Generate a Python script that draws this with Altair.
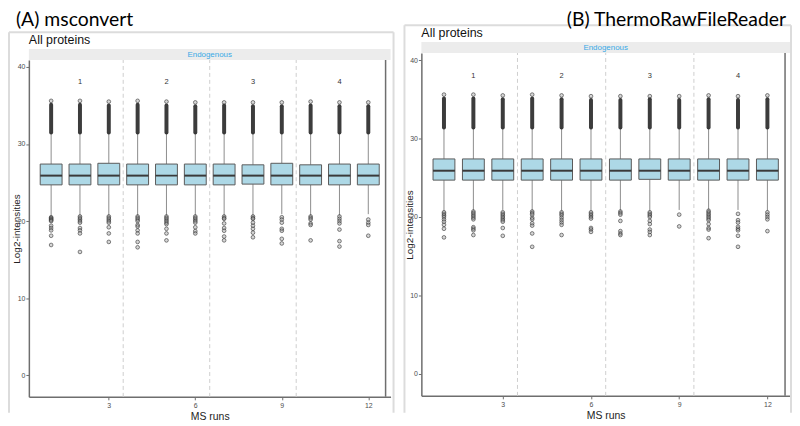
import altair as alt
import pandas as pd

RUNS = list(range(1, 13))
X_DOMAIN = [0.4, 12.6]
Y_DOMAIN = [-2.8, 40.9]
X_TICKS = [3, 6, 9, 12]
Y_TICKS = [0, 10, 20, 30, 40]
SEPARATORS = [3.5, 6.5, 9.5]
GROUP_LABELS = ["1", "2", "3", "4"]
GROUP_X = [2, 5, 8, 11]
GROUP_Y = [38, 38, 38, 38]

# (A) msconvert
A_Q1 = [24.7, 24.7, 24.7, 24.7, 24.7, 24.7, 24.7, 24.8, 24.7, 24.7, 24.7, 24.7]
A_MED = [25.9, 25.9, 25.9, 25.9, 25.9, 25.9, 25.9, 25.9, 25.9, 25.9, 25.9, 25.9]
A_Q3 = [27.4, 27.4, 27.5, 27.4, 27.4, 27.4, 27.4, 27.3, 27.5, 27.3, 27.4, 27.4]
A_WLO = [20.7, 20.7, 20.7, 20.7, 20.7, 20.7, 20.7, 20.7, 20.9, 20.7, 20.7, 20.9]
A_WHI = [31.5, 31.5, 31.5, 31.5, 31.5, 31.5, 31.5, 31.5, 31.5, 31.5, 31.5, 31.5]
A_DENSE_HI = [35.1, 35.1, 35.0, 35.1, 35.0, 34.9, 35.0, 34.9, 34.9, 35.0, 34.9, 34.9]
A_MAX = [35.6, 35.6, 35.5, 35.6, 35.5, 35.4, 35.4, 35.4, 35.4, 35.5, 35.4, 35.4]
A_LOW = [
    [20.5, 20.4, 20.3, 20.2, 20.1, 20.0, 19.4, 19.1, 18.8, 18.1, 16.9],
    [20.6, 20.4, 20.2, 20.0, 19.8, 19.1, 18.8, 18.4, 16.0],
    [20.6, 20.4, 20.2, 20.0, 19.8, 19.2, 18.4, 17.3],
    [20.6, 20.4, 20.2, 20.0, 19.5, 19.3, 18.8, 18.4, 17.3, 16.6],
    [20.6, 20.4, 20.2, 20.0, 19.8, 19.6, 19.0, 18.4, 17.5],
    [20.6, 20.4, 20.2, 20.0, 19.8, 19.2, 18.7, 18.4],
    [20.6, 20.4, 20.3, 19.7, 19.1, 18.75, 18.0, 17.5],
    [20.6, 20.4, 20.3, 19.8, 19.4, 19.0, 18.5, 17.9],
    [20.5, 20.2, 19.8, 19.0, 18.75, 17.7, 17.1],
    [20.6, 20.4, 20.2, 19.7, 19.5, 17.5],
    [20.6, 20.3, 20.0, 19.7, 18.9, 17.4, 16.7],
    [20.2, 19.8, 19.5, 18.1],
]

# (B) ThermoRawFileReader
B_Q1 = [24.7, 24.7, 24.7, 24.7, 24.7, 24.7, 24.7, 24.8, 24.7, 24.7, 24.7, 24.7]
B_MED = [25.9, 25.9, 25.9, 25.9, 25.9, 25.9, 25.9, 25.9, 25.9, 25.9, 25.9, 25.9]
B_Q3 = [27.4, 27.4, 27.4, 27.4, 27.4, 27.4, 27.4, 27.4, 27.4, 27.4, 27.4, 27.4]
B_WLO = [20.8, 20.8, 20.9, 20.8, 20.8, 20.8, 20.8, 20.8, 20.9, 20.9, 20.9, 20.8]
B_WHI = [31.4, 31.4, 31.4, 31.4, 31.4, 31.4, 31.4, 31.4, 31.4, 31.4, 31.4, 31.4]
B_DENSE_HI = [35.1, 35.1, 35.0, 35.1, 35.0, 34.9, 34.9, 35.0, 34.9, 35.0, 34.9, 35.0]
B_MAX = [35.6, 35.6, 35.5, 35.6, 35.5, 35.4, 35.4, 35.4, 35.4, 35.5, 35.4, 35.5]
B_LOW = [
    [20.6, 20.4, 20.2, 20.0, 19.7, 19.4, 19.0, 18.5, 17.4],
    [20.7, 20.5, 20.3, 20.1, 19.9, 19.7, 18.7, 18.5, 18.3, 17.7],
    [20.6, 20.4, 20.2, 20.0, 19.8, 19.6, 19.4, 18.6, 17.6],
    [20.7, 20.5, 20.3, 19.9, 19.7, 19.2, 18.9, 17.9, 16.2],
    [20.6, 20.4, 20.2, 19.9, 19.6, 19.3, 19.0, 17.7],
    [20.6, 20.4, 20.2, 20.0, 19.8, 18.6, 18.4, 18.1],
    [20.7, 20.5, 20.3, 19.5, 18.2, 17.9, 17.7],
    [20.6, 20.4, 20.2, 20.0, 19.5, 19.1, 18.4, 18.1, 17.7],
    [20.3, 18.8],
    [20.8, 20.6, 20.4, 20.2, 20.0, 19.8, 19.6, 19.1, 18.6, 18.4, 17.3],
    [20.4, 19.6, 19.3, 18.75, 18.5, 18.3, 17.6, 16.2],
    [20.6, 20.3, 20.0, 19.7, 18.2],
]

PANEL_TITLE = "All proteins"
STRIP_LABEL = "Endogenous"

AXIS_COL = "#6e6e6e"
LABEL_COL = "#4d4d4d"


def one():
    return pd.DataFrame({"k": [0]})


def panel(big_title, title_align, title_x, Q1, MED, Q3, WLO, WHI, DHI, MX, LOW,
          W, H, top, frame):
    box = pd.DataFrame(dict(run=RUNS, q1=Q1, med=MED, q3=Q3, wlo=WLO, whi=WHI,
                            dhi=DHI, mx=MX))
    low = pd.DataFrame([(r, v) for r, vals in zip(RUNS, LOW) for v in vals],
                       columns=["run", "v"])
    seps = pd.DataFrame({"x": SEPARATORS, "lo": [Y_DOMAIN[0]] * 3, "hi": [Y_DOMAIN[1]] * 3})
    groups = pd.DataFrame({"g": GROUP_LABELS, "x": GROUP_X, "y": GROUP_Y})
    border = pd.DataFrame({"x": [X_DOMAIN[1]], "lo": [Y_DOMAIN[0]], "hi": [Y_DOMAIN[1]]})

    xs = alt.Scale(domain=X_DOMAIN, nice=False, zero=False)
    ys = alt.Scale(domain=Y_DOMAIN, nice=False, zero=False, range=[H, top])
    xax = alt.Axis(values=X_TICKS, title="MS runs", grid=False, labelFontSize=7,
                   titleFontSize=10.5, titleFontWeight="normal", tickSize=3,
                   labelPadding=2, titlePadding=3, domainColor=AXIS_COL,
                   domainWidth=1.5, tickColor=AXIS_COL, labelColor=LABEL_COL,
                   titleColor="#222", labelFont="Liberation Sans",
                   titleFont="Liberation Sans")
    yax = alt.Axis(values=Y_TICKS, title="Log2-intensities", grid=False,
                   labelFontSize=7, titleFontSize=10, titleFontWeight="normal",
                   tickSize=3, labelPadding=1, titleX=-7, titleY=(H + top) / 2,
                   titleAngle=270, titleAlign="center", titleBaseline="bottom",
                   domainColor=AXIS_COL, domainWidth=1.5, tickColor=AXIS_COL,
                   labelColor=LABEL_COL, titleColor="#222",
                   labelFont="Liberation Sans", titleFont="Liberation Sans")

    def X(f):
        return alt.X(f, scale=xs, axis=xax, title="MS runs")

    def Y(f):
        return alt.Y(f, scale=ys, axis=yax, title="Log2-intensities")

    fl, ft, fr = frame
    layers = []
    # main axes-defining layer first: whiskers
    layers.append(alt.Chart(box).mark_rule(color="#8c8c8c", strokeWidth=1).encode(
        x=X("run:Q"), y=Y("wlo:Q"), y2="q1:Q"))
    layers.append(alt.Chart(box).mark_rule(color="#8c8c8c", strokeWidth=1).encode(
        x=X("run:Q"), y=Y("q3:Q"), y2="whi:Q"))
    # outer light frame
    layers.append(alt.Chart(one()).mark_rule(color="#dcdcdc", strokeWidth=2).encode(
        x=alt.value(fl), y=alt.value(ft), y2=alt.value(362)))
    layers.append(alt.Chart(one()).mark_rule(color="#dcdcdc", strokeWidth=2).encode(
        x=alt.value(fl), x2=alt.value(fr), y=alt.value(ft)))
    if fr < W + 5:
        layers.append(alt.Chart(one()).mark_rule(color="#dcdcdc", strokeWidth=2).encode(
            x=alt.value(fr), y=alt.value(ft), y2=alt.value(362)))
    # strip
    layers.append(alt.Chart(one()).mark_rect(color="#ececec").encode(
        x=alt.value(0), x2=alt.value(W), y=alt.value(top - 11), y2=alt.value(top)))
    layers.append(alt.Chart(one()).mark_text(
        text=STRIP_LABEL, color="#38a9e6", fontSize=8, font="Liberation Sans",
        baseline="middle", align="center").encode(
        x=alt.value(W / 2), y=alt.value(top - 5.5)))
    layers.append(alt.Chart(one()).mark_text(
        text=PANEL_TITLE, color="#111", fontSize=12.5, font="Liberation Sans",
        baseline="middle", align="left").encode(
        x=alt.value(0), y=alt.value(top - 20)))
    layers.append(alt.Chart(one()).mark_text(
        text=big_title, color="#000", fontSize=19.5, font="Lato",
        baseline="top", align=title_align).encode(
        x=alt.value(title_x), y=alt.value(-42)))
    # separators
    layers.append(alt.Chart(seps).mark_rule(color="#cfcfcf", strokeDash=[4, 3], strokeWidth=1).encode(
        x=X("x:Q"), y=Y("lo:Q"), y2="hi:Q"))
    # right border
    layers.append(alt.Chart(border).mark_rule(color=AXIS_COL, strokeWidth=1.5).encode(
        x=X("x:Q"), y=Y("lo:Q"), y2="hi:Q"))
    # group labels
    layers.append(alt.Chart(groups).mark_text(fontSize=7.5, color="#333333", font="Liberation Sans").encode(
        x=X("x:Q"), y=Y("y:Q"), text="g:N"))
    # dense upper outliers
    layers.append(alt.Chart(box).mark_rule(color="#2b2b2b", strokeWidth=4, strokeCap="round", opacity=0.92).encode(
        x=X("run:Q"), y=Y("whi:Q"), y2="dhi:Q"))
    layers.append(alt.Chart(box).mark_point(shape="circle", filled=True, fill="#999999", fillOpacity=0.4,
                                            stroke="#333333", strokeOpacity=0.75, strokeWidth=0.8, size=14).encode(
        x=X("run:Q"), y=Y("mx:Q")))
    # boxes
    layers.append(alt.Chart(box).mark_bar(size=22, color="#add8e6", stroke="#5a5a5a", strokeWidth=1).encode(
        x=X("run:Q"), y=Y("q1:Q"), y2="q3:Q"))
    layers.append(alt.Chart(box).mark_tick(orient="horizontal", size=22, thickness=2, color="#3a3a3a", opacity=1).encode(
        x=X("run:Q"), y=Y("med:Q")))
    # lower outliers
    layers.append(alt.Chart(low).mark_point(shape="circle", filled=True, fill="#999999", fillOpacity=0.4,
                                            stroke="#333333", strokeOpacity=0.75, strokeWidth=0.8, size=14).encode(
        x=X("run:Q"), y=Y("v:Q")))

    return alt.layer(*layers).properties(width=W, height=H)


left = panel("(A) msconvert", "left", -13, A_Q1, A_MED, A_Q3, A_WLO, A_WHI, A_DENSE_HI, A_MAX, A_LOW,
             364, 346, 7, (-20, -21, 367))
right = panel("(B) ThermoRawFileReader", "right", 367, B_Q1, B_MED, B_Q3, B_WLO, B_WHI, B_DENSE_HI, B_MAX, B_LOW,
              371, 345, 0, (-17, -28, 372))

chart = alt.hconcat(left, right, spacing=9).properties(
    padding={"top": 1, "left": 0, "right": 0, "bottom": 0}
).configure_view(stroke=None)

chart.save("out.html", embed_options={"renderer": "svg", "actions": False})
